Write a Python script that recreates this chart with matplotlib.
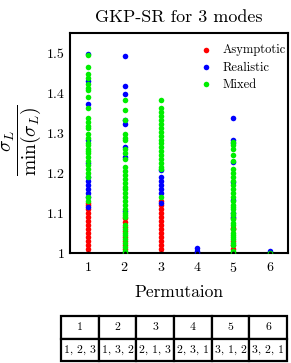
import numpy as np
import matplotlib
matplotlib.use('Agg')
import matplotlib.pyplot as plt

plt.rcParams['font.family'] = 'serif'
plt.rcParams['font.serif'] = ['cmr10', 'DejaVu Serif']
plt.rcParams['mathtext.fontset'] = 'cm'
plt.rcParams['axes.formatter.use_mathtext'] = True

# values: permutation index -> sigma_L / min(sigma_L)
asym_x = [1]*14 + [2]*8 + [3]*14 + [5]*6
asym_y = [1.00, 1.01, 1.02, 1.03, 1.04, 1.05, 1.06, 1.07, 1.08, 1.09, 1.10, 1.11, 1.12, 1.125,
          1.01, 1.02, 1.03, 1.04, 1.055, 1.065, 1.078, 1.088,
          1.00, 1.01, 1.02, 1.03, 1.04, 1.05, 1.06, 1.07, 1.08, 1.09, 1.10, 1.11, 1.12, 1.13,
          1.01, 1.02, 1.03, 1.06, 1.063, 1.088]

real_x = [1]*12 + [2]*8 + [3]*7 + [4]*3 + [5]*8 + [6]*1
real_y = [1.50, 1.433, 1.375, 1.285, 1.14, 1.15, 1.16, 1.17, 1.18, 1.19, 1.115, 1.225,
          1.495, 1.42, 1.40, 1.325, 1.265, 1.24, 1.105, 1.333,
          1.208, 1.15, 1.16, 1.17, 1.18, 1.19, 1.125,
          1.00, 1.006, 1.012,
          1.338, 1.283, 1.228, 1.178, 1.133, 1.10, 1.275, 1.09,
          1.004]

mixed_x = [1]*28 + [2]*33 + [3]*19 + [5]*31 + [6]*1
mixed_y = [1.497, 1.468, 1.45, 1.44, 1.425, 1.415, 1.41, 1.393, 1.365, 1.34, 1.33,
           1.315, 1.30, 1.29, 1.275, 1.26, 1.25, 1.24, 1.23, 1.22, 1.21, 1.20, 1.19,
           1.14, 1.13, 1.32, 1.27, 1.255,
           1.383, 1.36, 1.333, 1.30, 1.29, 1.283, 1.26, 1.25, 1.235, 1.215, 1.205,
           1.195, 1.185, 1.175, 1.165, 1.16, 1.15, 1.14, 1.13, 1.12, 1.11, 1.10, 1.095,
           1.09, 1.07, 1.06, 1.05, 1.045, 1.035, 1.025, 1.015, 1.005, 1.00,
           1.385, 1.365, 1.355, 1.345, 1.335, 1.325, 1.315, 1.305, 1.295, 1.285, 1.275,
           1.265, 1.255, 1.245, 1.235, 1.225, 1.215, 1.21, 1.14,
           1.278, 1.27, 1.26, 1.245, 1.23, 1.21, 1.20, 1.19, 1.18, 1.17, 1.16, 1.15,
           1.14, 1.13, 1.12, 1.11, 1.10, 1.095, 1.085, 1.075, 1.07, 1.06, 1.05, 1.045,
           1.04, 1.035, 1.025, 1.02, 1.005, 1.00, 1.115,
           1.00]

min_x = [1, 2, 3, 4, 5, 6]
min_y = [1.0, 1.0, 1.0, 1.0, 1.0, 1.0]

perm_idx = ['1', '2', '3', '4', '5', '6']
perm_order = ['1, 2, 3', '1, 3, 2', '2, 1, 3', '2, 3, 1', '3, 1, 2', '3, 2, 1']

fig = plt.figure(figsize=(2.91, 3.63), dpi=100)
ax = fig.add_axes([70/291, 1 - 253/363, 218/291, 220/363])

ax.scatter(asym_x, asym_y, s=16, color='#ff0000', lw=0, label='Asymptotic', zorder=2)
ax.scatter(real_x, real_y, s=16, color='#0000ff', lw=0, label='Realistic', zorder=3)
ax.scatter(mixed_x, mixed_y, s=16, color='#00ee00', lw=0, label='Mixed', zorder=4)
ax.scatter(min_x, min_y, s=7, color='black', lw=0, zorder=5)

ax.set_xlim(0.5, 6.5)
ax.set_ylim(1.0, 1.5525)
ax.set_xticks([1, 2, 3, 4, 5, 6])
ax.set_yticks([1.0, 1.1, 1.2, 1.3, 1.4, 1.5])
ax.set_yticklabels(['1', '1.1', '1.2', '1.3', '1.4', '1.5'])
ax.tick_params(axis='y', labelsize=10, length=0, pad=4)
ax.tick_params(axis='x', labelsize=10, length=0, pad=6)
for sp in ax.spines.values():
    sp.set_linewidth(1.5)

ax.set_title('GKP-SR for 3 modes', fontsize=13, pad=8)
ax.set_xlabel('Permutaion', fontsize=12.5, labelpad=7)
fig.text(21/291, 1 - 140/363, r'$\dfrac{\sigma_L}{\min(\sigma_L)}$', fontsize=14,
         rotation=90, ha='center', va='center')

leg = ax.legend(loc='upper right', bbox_to_anchor=(1.0, 0.96), frameon=False,
                fontsize=9, handletextpad=0.3, borderaxespad=0.0,
                labelspacing=0.4, borderpad=0.2)

tax = fig.add_axes([61/291, 2/363, 226/291, 45/363])
tax.axis('off')
tbl = tax.table(cellText=[perm_idx, perm_order], cellLoc='center', bbox=[0, 0, 1, 1])
tbl.auto_set_font_size(False)
tbl.set_fontsize(8.5)
for cell in tbl.get_celld().values():
    cell.set_linewidth(1.6)
    cell.PAD = 0.02

fig.savefig('out.png', dpi=100)
